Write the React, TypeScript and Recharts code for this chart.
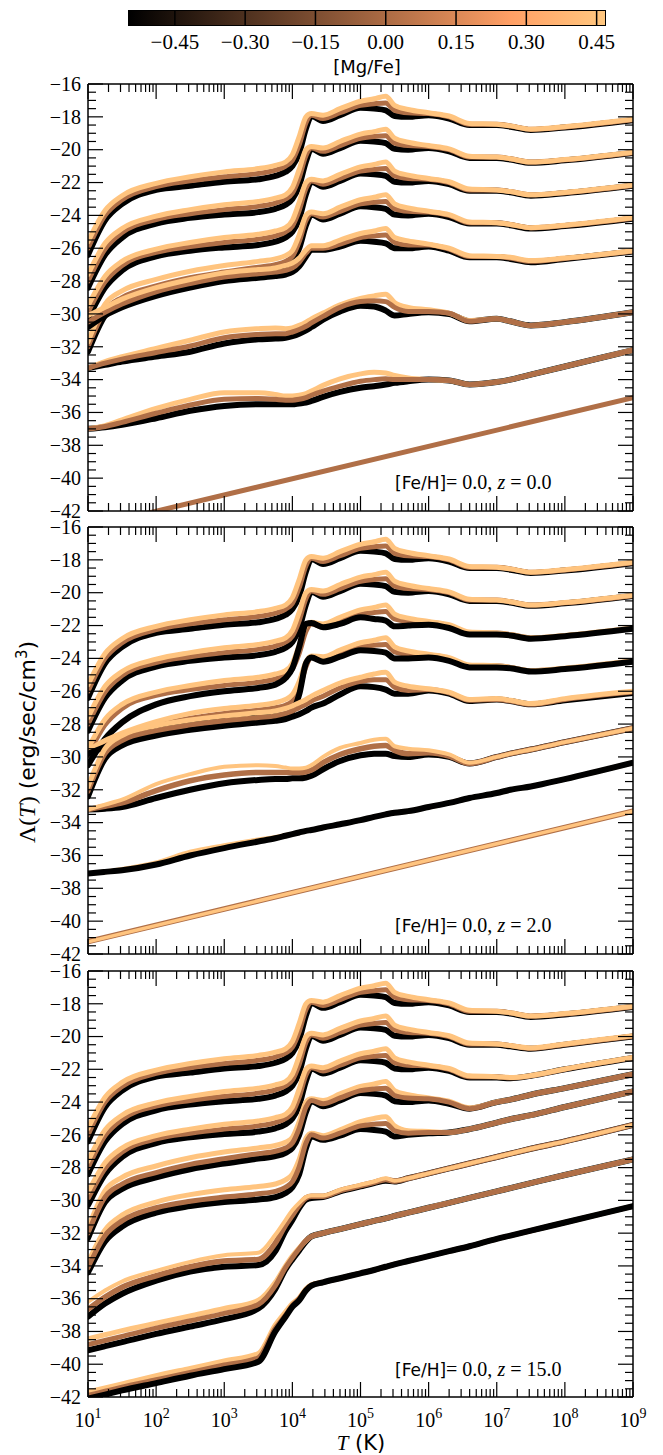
import React from 'react';
import { LineChart, Line, XAxis, YAxis } from 'recharts';

const BLACK = '#000000';
const BROWN = '#B06F47';
const ORANGE = '#FFC47F';
const SERIF = '"Liberation Serif", "DejaVu Serif", serif';
const SANS = '"DejaVu Sans", "Liberation Sans", sans-serif';

// colour bar ([Mg/Fe])
const MGFE_RANGE = [-0.55, 0.47];
const MGFE_TICKS = [-0.45, -0.3, -0.15, 0, 0.15, 0.3, 0.45];

// axes: log10(T) from 1 to 9, Lambda from -42 to -16
const DECADES = [1, 2, 3, 4, 5, 6, 7, 8, 9];
const MINOR_STEPS = [2, 3, 4, 5, 6, 7, 8, 9];
const Y_RANGE = [-42, -16];

// log10(T) sample grid shared by the curves
const LOGT = [1, 1.25, 1.5, 2, 2.5, 3, 3.5, 3.75, 3.9, 4, 4.1, 4.2, 4.28, 4.45, 4.7, 5, 5.2, 5.37, 5.5, 5.7, 6, 6.3, 6.6, 7, 7.2, 7.5, 8, 9];
const LOGT_ENDS = [1, 9];

// ---- z = 0.0 ----
const z0_g1_k = [-26.4, -24.3, -23.3, -22.45, -22.2, -21.95, -21.8, -21.6, -21.35, -21.0, -20.2, -18.7, -17.95, -18.25, -17.9, -17.45, -17.5, -17.6, -17.95, -18.0, -17.9, -18.1, -18.5, -18.5, -18.6, -18.8, -18.65, -18.2];
const z0_g1_b = [-26.0, -24.0, -23.05, -22.25, -21.9, -21.65, -21.45, -21.25, -21.0, -20.65, -19.7, -18.35, -17.9, -18.1, -17.75, -17.3, -17.2, -17.15, -17.6, -17.75, -17.8, -18.0, -18.45, -18.45, -18.55, -18.75, -18.62, -18.18];
const z0_g1_o = [-25.6, -23.7, -22.8, -22.05, -21.65, -21.35, -21.15, -20.95, -20.75, -20.3, -19.2, -18.0, -17.8, -17.9, -17.5, -17.05, -16.9, -16.75, -17.3, -17.55, -17.75, -17.95, -18.4, -18.45, -18.55, -18.75, -18.6, -18.15];
const z0_g2_k = [-28.4, -26.4, -25.35, -24.5, -24.15, -23.95, -23.8, -23.6, -23.35, -23.0, -22.2, -20.7, -19.95, -20.25, -19.9, -19.45, -19.5, -19.6, -19.95, -20.0, -19.9, -20.1, -20.5, -20.5, -20.6, -20.8, -20.65, -20.2];
const z0_g2_b = [-28.0, -26.05, -25.05, -24.25, -23.9, -23.65, -23.45, -23.25, -23.0, -22.65, -21.7, -20.35, -19.9, -20.1, -19.75, -19.3, -19.2, -19.15, -19.6, -19.75, -19.8, -20.0, -20.45, -20.45, -20.55, -20.75, -20.62, -20.18];
const z0_g2_o = [-27.6, -25.7, -24.8, -24.05, -23.65, -23.35, -23.15, -22.95, -22.75, -22.3, -21.2, -20.0, -19.8, -19.9, -19.5, -19.05, -18.9, -18.75, -19.3, -19.55, -19.75, -19.95, -20.4, -20.45, -20.55, -20.75, -20.6, -20.15];
const z0_g3_k = [-30.3, -28.4, -27.35, -26.5, -26.15, -25.95, -25.8, -25.6, -25.35, -25.0, -24.2, -22.7, -21.95, -22.25, -21.9, -21.45, -21.5, -21.6, -21.95, -22.0, -21.9, -22.1, -22.5, -22.5, -22.6, -22.8, -22.65, -22.2];
const z0_g3_b = [-29.9, -28.05, -27.05, -26.25, -25.9, -25.65, -25.45, -25.25, -25.0, -24.65, -23.7, -22.35, -21.9, -22.1, -21.75, -21.3, -21.2, -21.15, -21.6, -21.75, -21.8, -22.0, -22.45, -22.45, -22.55, -22.75, -22.62, -22.18];
const z0_g3_o = [-29.5, -27.7, -26.8, -26.05, -25.65, -25.35, -25.15, -24.95, -24.75, -24.3, -23.2, -22.0, -21.8, -21.9, -21.5, -21.05, -20.9, -20.75, -21.3, -21.55, -21.75, -21.95, -22.4, -22.45, -22.55, -22.75, -22.6, -22.15];
const z0_g4_k = [-32.3, -30.1, -29.3, -28.6, -28.1, -27.75, -27.45, -27.3, -27.1, -26.8, -26.0, -24.6, -23.95, -24.25, -23.9, -23.45, -23.5, -23.6, -23.95, -24.0, -23.9, -24.1, -24.5, -24.5, -24.6, -24.8, -24.65, -24.2];
const z0_g4_b = [-32.0, -29.8, -29.0, -28.3, -27.8, -27.45, -27.15, -27.0, -26.8, -26.5, -25.6, -24.3, -23.9, -24.1, -23.75, -23.3, -23.2, -23.15, -23.6, -23.75, -23.8, -24.0, -24.45, -24.45, -24.55, -24.75, -24.62, -24.18];
const z0_g4_o = [-31.7, -29.4, -28.6, -27.9, -27.4, -27.05, -26.8, -26.65, -26.45, -26.15, -25.2, -24.0, -23.8, -23.9, -23.5, -23.05, -22.9, -22.75, -23.3, -23.55, -23.75, -23.95, -24.4, -24.45, -24.55, -24.75, -24.6, -24.15];
const z0_g5_k = [-30.8, -30.1, -29.6, -28.9, -28.4, -28.0, -27.8, -27.7, -27.6, -27.45, -27.1, -26.5, -26.1, -26.1, -25.9, -25.55, -25.6, -25.7, -26.0, -26.0, -25.9, -26.15, -26.55, -26.55, -26.65, -26.85, -26.65, -26.2];
const z0_g5_b = [-30.5, -29.9, -29.4, -28.65, -28.15, -27.75, -27.55, -27.45, -27.35, -27.2, -26.85, -26.3, -26.0, -26.0, -25.75, -25.35, -25.25, -25.2, -25.65, -25.8, -25.8, -26.05, -26.5, -26.5, -26.6, -26.8, -26.62, -26.18];
const z0_g5_o = [-30.1, -29.6, -29.1, -28.4, -27.9, -27.5, -27.3, -27.2, -27.05, -26.9, -26.6, -26.1, -25.85, -25.85, -25.5, -25.1, -24.95, -24.8, -25.35, -25.55, -25.75, -26.0, -26.45, -26.5, -26.55, -26.75, -26.6, -26.15];
const z0_g6_k = [-33.3, -33.1, -32.9, -32.6, -32.3, -31.8, -31.55, -31.5, -31.45, -31.35, -31.2, -31.0, -30.8, -30.35, -29.85, -29.5, -29.55, -29.8, -30.1, -30.0, -29.9, -30.0, -30.45, -30.3, -30.45, -30.7, -30.5, -29.9];
const z0_g6_b = [-33.3, -33.0, -32.75, -32.35, -31.95, -31.45, -31.25, -31.2, -31.2, -31.1, -30.95, -30.75, -30.55, -30.15, -29.6, -29.25, -29.2, -29.25, -29.6, -29.85, -29.85, -29.95, -30.45, -30.3, -30.45, -30.7, -30.5, -29.9];
const z0_g6_o = [-33.3, -32.9, -32.6, -32.1, -31.6, -31.1, -30.9, -30.85, -30.9, -30.85, -30.7, -30.5, -30.3, -29.95, -29.45, -29.05, -28.9, -28.8, -29.3, -29.6, -29.75, -29.95, -30.4, -30.3, -30.45, -30.7, -30.5, -29.9];
const z0_g7_k = [-37.0, -36.9, -36.75, -36.35, -35.9, -35.6, -35.5, -35.5, -35.5, -35.5, -35.45, -35.4, -35.3, -35.05, -34.75, -34.5, -34.4, -34.3, -34.2, -34.1, -34.0, -34.05, -34.3, -34.15, -34.0, -33.7, -33.2, -32.2];
const z0_g7_b = [-37.0, -36.85, -36.6, -36.05, -35.55, -35.2, -35.15, -35.2, -35.25, -35.25, -35.2, -35.1, -34.95, -34.7, -34.4, -34.1, -34.0, -33.95, -34.0, -34.0, -34.0, -34.05, -34.3, -34.15, -34.0, -33.7, -33.2, -32.2];
const z0_g7_o = [-37.0, -36.8, -36.45, -35.75, -35.2, -34.8, -34.8, -34.9, -35.0, -35.0, -34.95, -34.85, -34.7, -34.35, -33.95, -33.65, -33.55, -33.6, -33.75, -33.9, -34.0, -34.05, -34.3, -34.15, -34.0, -33.7, -33.2, -32.2];
const z0_g8_b = [-43.0, -35.1];

// ---- z = 2.0 ----
const z2_g3_k = [-30.5, -28.9, -27.9, -26.8, -26.3, -26.0, -25.8, -25.6, -25.2, -24.6, -23.3, -21.9, -21.85, -22.1, -21.9, -21.5, -21.6, -21.7, -22.05, -22.0, -21.95, -22.15, -22.55, -22.55, -22.6, -22.8, -22.65, -22.2];
const z2_g4_k = [-29.8, -29.4, -29.0, -28.4, -28.0, -27.75, -27.6, -27.5, -27.4, -27.2, -26.2, -24.3, -23.95, -24.2, -23.9, -23.5, -23.55, -23.65, -24.0, -24.0, -23.95, -24.15, -24.55, -24.55, -24.6, -24.8, -24.65, -24.2];
const z2_g4_b = [-29.7, -29.2, -28.8, -28.1, -27.65, -27.35, -27.15, -27.0, -26.85, -26.6, -25.9, -24.5, -23.95, -24.1, -23.75, -23.3, -23.2, -23.15, -23.6, -23.75, -23.8, -24.0, -24.45, -24.45, -24.55, -24.75, -24.62, -24.18];
const z2_g4_o = [-29.6, -29.0, -28.55, -27.85, -27.35, -27.05, -26.85, -26.7, -26.5, -26.2, -25.4, -24.2, -23.85, -23.9, -23.5, -23.05, -22.9, -22.75, -23.3, -23.55, -23.75, -23.95, -24.4, -24.45, -24.55, -24.75, -24.6, -24.15];
const z2_g5_k = [-32.4, -30.1, -29.3, -28.7, -28.35, -28.1, -27.9, -27.8, -27.7, -27.55, -27.4, -27.2, -27.0, -26.75, -26.2, -25.7, -25.75, -25.9, -26.15, -26.15, -25.95, -26.15, -26.6, -26.5, -26.6, -26.8, -26.55, -26.1];
const z2_g5_b = [-32.1, -29.8, -29.0, -28.4, -28.05, -27.8, -27.6, -27.5, -27.35, -27.2, -27.0, -26.8, -26.6, -26.3, -25.8, -25.4, -25.3, -25.3, -25.75, -25.95, -25.9, -26.1, -26.55, -26.5, -26.6, -26.8, -26.5, -26.05];
const z2_g5_o = [-31.8, -29.5, -28.7, -28.1, -27.75, -27.5, -27.3, -27.2, -27.05, -26.9, -26.7, -26.5, -26.3, -25.95, -25.5, -25.15, -24.95, -24.85, -25.45, -25.7, -25.85, -26.05, -26.5, -26.45, -26.55, -26.75, -26.45, -26.0];
const z2_g6_k = [-33.2, -33.15, -33.05, -32.5, -32.0, -31.6, -31.4, -31.35, -31.35, -31.3, -31.3, -31.25, -31.15, -30.75, -30.25, -29.9, -29.8, -29.8, -29.95, -30.0, -29.85, -30.0, -30.4, -30.0, -29.8, -29.55, -29.1, -28.25];
const z2_g6_b = [-33.2, -33.0, -32.8, -32.05, -31.45, -31.1, -30.95, -30.95, -30.95, -30.95, -30.95, -30.9, -30.8, -30.35, -29.85, -29.5, -29.35, -29.3, -29.6, -29.8, -29.75, -29.95, -30.4, -30.0, -29.8, -29.55, -29.1, -28.25];
const z2_g6_o = [-33.2, -32.9, -32.6, -31.65, -31.05, -30.6, -30.5, -30.55, -30.65, -30.7, -30.7, -30.65, -30.5, -30.0, -29.45, -29.15, -28.95, -28.9, -29.35, -29.5, -29.6, -29.85, -30.35, -30.0, -29.8, -29.55, -29.1, -28.25];
const z2_g7_k = [-37.1, -37.0, -36.9, -36.55, -36.0, -35.55, -35.15, -34.95, -34.8, -34.7, -34.6, -34.5, -34.45, -34.3, -34.1, -33.85, -33.65, -33.5, -33.4, -33.3, -33.05, -32.8, -32.5, -32.2, -32.0, -31.8, -31.35, -30.35];
const z2_g7_o = [-37.1, -37.0, -36.85, -36.45, -35.8, -35.4, -35.05, -34.9, -34.78, -34.7, -34.6, -34.5, -34.45, -34.3, -34.1, -33.85, -33.65, -33.5, -33.4, -33.3, -33.05, -32.8, -32.5, -32.2, -32.0, -31.8, -31.35, -30.35];
const z2_g8_o = [-41.25, -33.3];

// ---- z = 15.0 ----
const z15_g2_k = [-28.4, -26.4, -25.35, -24.5, -24.15, -23.95, -23.8, -23.6, -23.35, -23.0, -22.2, -20.7, -19.95, -20.25, -19.9, -19.45, -19.5, -19.6, -19.95, -20.0, -19.9, -20.1, -20.5, -20.5, -20.6, -20.75, -20.5, -20.0];
const z15_g2_b = [-28.0, -26.05, -25.05, -24.25, -23.9, -23.65, -23.45, -23.25, -23.0, -22.65, -21.7, -20.35, -19.9, -20.1, -19.75, -19.3, -19.2, -19.15, -19.6, -19.75, -19.8, -20.0, -20.45, -20.45, -20.55, -20.72, -20.48, -19.98];
const z15_g2_o = [-27.6, -25.7, -24.8, -24.05, -23.65, -23.35, -23.15, -22.95, -22.75, -22.3, -21.2, -20.0, -19.8, -19.9, -19.5, -19.05, -18.9, -18.75, -19.3, -19.55, -19.75, -19.95, -20.4, -20.45, -20.55, -20.7, -20.45, -19.95];
const z15_g3_k = [-30.3, -28.4, -27.35, -26.5, -26.15, -25.95, -25.8, -25.6, -25.35, -25.0, -24.2, -22.7, -21.95, -22.25, -21.9, -21.45, -21.5, -21.6, -21.95, -22.0, -21.9, -22.1, -22.5, -22.5, -22.55, -22.4, -22.0, -21.3];
const z15_g3_b = [-29.9, -28.05, -27.05, -26.25, -25.9, -25.65, -25.45, -25.25, -25.0, -24.65, -23.7, -22.35, -21.9, -22.1, -21.75, -21.3, -21.2, -21.15, -21.6, -21.75, -21.8, -22.0, -22.45, -22.45, -22.52, -22.4, -22.0, -21.3];
const z15_g3_o = [-29.5, -27.7, -26.8, -26.05, -25.65, -25.35, -25.15, -24.95, -24.75, -24.3, -23.2, -22.0, -21.8, -21.9, -21.5, -21.05, -20.9, -20.75, -21.3, -21.55, -21.75, -21.95, -22.4, -22.45, -22.5, -22.38, -21.98, -21.28];
const z15_g4_k = [-32.3, -30.1, -29.3, -28.6, -28.1, -27.75, -27.45, -27.3, -27.1, -26.8, -26.0, -24.6, -23.95, -24.25, -23.9, -23.45, -23.5, -23.6, -23.95, -24.0, -23.9, -24.1, -24.4, -24.0, -23.85, -23.55, -23.15, -22.3];
const z15_g4_b = [-32.0, -29.8, -29.0, -28.3, -27.8, -27.45, -27.15, -27.0, -26.8, -26.5, -25.6, -24.3, -23.9, -24.1, -23.75, -23.3, -23.2, -23.15, -23.6, -23.75, -23.8, -24.0, -24.4, -24.0, -23.85, -23.55, -23.15, -22.3];
const z15_g4_o = [-31.7, -29.4, -28.6, -27.9, -27.4, -27.05, -26.8, -26.65, -26.45, -26.15, -25.2, -24.0, -23.8, -23.9, -23.5, -23.05, -22.9, -22.75, -23.3, -23.55, -23.75, -23.95, -24.35, -24.0, -23.85, -23.55, -23.15, -22.3];
const z15_g5_k = [-34.4, -32.5, -31.6, -30.75, -30.35, -30.1, -29.95, -29.8, -29.55, -29.2, -28.4, -26.8, -26.1, -26.3, -26.05, -25.65, -25.7, -25.8, -26.1, -26.0, -25.9, -25.85, -25.65, -25.25, -25.05, -24.8, -24.3, -23.35];
const z15_g5_b = [-34.1, -32.15, -31.25, -30.45, -30.05, -29.8, -29.6, -29.45, -29.2, -28.85, -27.95, -26.5, -26.0, -26.2, -25.9, -25.45, -25.35, -25.3, -25.75, -25.9, -25.85, -25.85, -25.65, -25.25, -25.05, -24.8, -24.3, -23.35];
const z15_g5_o = [-33.8, -31.8, -30.9, -30.1, -29.65, -29.35, -29.15, -29.0, -28.75, -28.4, -27.5, -26.2, -25.9, -26.05, -25.7, -25.2, -25.0, -24.9, -25.45, -25.75, -25.8, -25.85, -25.65, -25.25, -25.05, -24.8, -24.3, -23.35];
const z15_g6_k = [-37.1, -36.3, -35.7, -34.9, -34.35, -34.05, -33.95, -33.1, -31.85, -31.2, -30.45, -29.95, -29.85, -29.8, -29.45, -29.15, -28.95, -28.8, -28.85, -28.65, -28.35, -28.05, -27.75, -27.35, -27.15, -26.85, -26.4, -25.4];
const z15_g6_b = [-36.65, -35.9, -35.3, -34.6, -34.05, -33.7, -33.6, -32.6, -31.5, -30.9, -30.3, -29.85, -29.75, -29.75, -29.4, -29.1, -28.9, -28.72, -28.82, -28.65, -28.35, -28.05, -27.75, -27.35, -27.15, -26.85, -26.4, -25.4];
const z15_g6_o = [-36.2, -35.5, -34.95, -34.3, -33.75, -33.35, -33.2, -32.1, -31.2, -30.6, -30.15, -29.8, -29.7, -29.7, -29.35, -29.05, -28.85, -28.65, -28.8, -28.65, -28.35, -28.05, -27.75, -27.35, -27.15, -26.85, -26.4, -25.4];
const z15_g7_k = [-39.15, -38.9, -38.65, -38.15, -37.7, -37.25, -36.6, -35.4, -34.2, -33.6, -33.05, -32.5, -32.2, -32.0, -31.75, -31.45, -31.25, -31.1, -30.95, -30.75, -30.45, -30.15, -29.85, -29.45, -29.25, -28.95, -28.45, -27.5];
const z15_g7_b = [-38.8, -38.55, -38.3, -37.8, -37.35, -36.9, -36.35, -35.2, -34.1, -33.5, -32.95, -32.45, -32.2, -32.0, -31.75, -31.45, -31.25, -31.1, -30.95, -30.75, -30.45, -30.15, -29.85, -29.45, -29.25, -28.95, -28.45, -27.5];
const z15_g7_o = [-38.45, -38.2, -37.95, -37.5, -37.05, -36.6, -36.1, -35.0, -34.0, -33.4, -32.9, -32.45, -32.2, -32.0, -31.75, -31.45, -31.25, -31.1, -30.95, -30.75, -30.45, -30.15, -29.85, -29.45, -29.25, -28.95, -28.45, -27.5];
const z15_g8_k = [-42.1, -41.85, -41.6, -41.15, -40.7, -40.3, -39.85, -38.0, -37.1, -36.5, -36.1, -35.5, -35.2, -35.0, -34.75, -34.45, -34.25, -34.05, -33.9, -33.7, -33.4, -33.1, -32.8, -32.35, -32.15, -31.85, -31.35, -30.35];
const z15_g8_b = [-41.9, -41.65, -41.4, -40.95, -40.5, -40.05, -39.6, -37.8, -37.0, -36.4, -36.0, -35.45, -35.18, -35.0, -34.75, -34.45, -34.25, -34.05, -33.9, -33.7, -33.4, -33.1, -32.8, -32.35, -32.15, -31.85, -31.35, -30.35];
const z15_g8_o = [-41.7, -41.45, -41.2, -40.7, -40.25, -39.8, -39.35, -37.6, -36.8, -36.3, -35.95, -35.4, -35.15, -35.0, -34.75, -34.45, -34.25, -34.05, -33.9, -33.7, -33.4, -33.1, -32.8, -32.35, -32.15, -31.85, -31.35, -30.35];

type Curve = { ys: number[]; color: string; w: number; xs: number[] };
const cv = (ys: number[], color: string, w = 5, xs: number[] = LOGT): Curve => ({ ys, color, w, xs });
const K = (ys: number[]) => cv(ys, BLACK, 6);
const B = (ys: number[]) => cv(ys, BROWN, 5);
const O = (ys: number[]) => cv(ys, ORANGE, 5);

const PANELS = [
  {
    z: '0.0', top: 84, plotH: 427, bottom: 12, showX: false,
    curves: [
      K(z0_g1_k), B(z0_g1_b), O(z0_g1_o),
      K(z0_g2_k), B(z0_g2_b), O(z0_g2_o),
      K(z0_g3_k), B(z0_g3_b), O(z0_g3_o),
      K(z0_g4_k), B(z0_g4_b), O(z0_g4_o),
      K(z0_g5_k), B(z0_g5_b), O(z0_g5_o),
      K(z0_g6_k), O(z0_g6_o), B(z0_g6_b),
      K(z0_g7_k), O(z0_g7_o), B(z0_g7_b),
      cv(z0_g8_b, BROWN, 5, LOGT_ENDS),
    ],
  },
  {
    z: '2.0', top: 527, plotH: 427, bottom: 12, showX: false,
    curves: [
      K(z0_g1_k), B(z0_g1_b), O(z0_g1_o),
      K(z0_g2_k), B(z0_g2_b), O(z0_g2_o),
      B(z0_g3_b), O(z0_g3_o), K(z2_g3_k),
      B(z2_g4_b), O(z2_g4_o), K(z2_g4_k),
      K(z2_g5_k), B(z2_g5_b), O(z2_g5_o),
      K(z2_g6_k), cv(z2_g6_b, BROWN, 5.5), cv(z2_g6_o, ORANGE, 4),
      O(z2_g7_o), K(z2_g7_k),
      cv(z2_g8_o, BROWN, 5.5, LOGT_ENDS), cv(z2_g8_o, ORANGE, 3.5, LOGT_ENDS),
    ],
  },
  {
    z: '15.0', top: 971, plotH: 426, bottom: 50, showX: true,
    curves: [
      K(z0_g1_k), B(z0_g1_b), O(z0_g1_o),
      K(z15_g2_k), B(z15_g2_b), O(z15_g2_o),
      K(z15_g3_k), B(z15_g3_b), O(z15_g3_o),
      K(z15_g4_k), O(z15_g4_o), B(z15_g4_b),
      K(z15_g5_k), O(z15_g5_o), B(z15_g5_b),
      K(z15_g6_k), cv(z15_g6_b, BROWN, 5.5), cv(z15_g6_o, ORANGE, 4),
      K(z15_g7_k), O(z15_g7_o), B(z15_g7_b),
      O(z15_g8_o), B(z15_g8_b), K(z15_g8_k),
    ],
  },
];

const X_TICKS = DECADES.flatMap((d) => (d < 9 ? [d, ...MINOR_STEPS.map((m) => d + Math.log10(m))] : [d]));
const Y_TICKS = Array.from({ length: (Y_RANGE[1] - Y_RANGE[0]) * 2 + 1 }, (_, i) => Y_RANGE[0] + i * 0.5);

const minus = (v: number, digits: number) => (v < 0 ? '\u2212' : '') + Math.abs(v).toFixed(digits);
const isDecade = (v: number) => Math.abs(v - Math.round(v)) < 1e-6;
const isEven = (v: number) => Math.abs(v / 2 - Math.round(v / 2)) < 1e-6;

const TICK = { stroke: '#000', strokeWidth: 1.2 };

const bottomTick = (showLabel: boolean) => (props: any) => {
  const { x, y, payload } = props;
  const major = isDecade(payload.value);
  return (
    <g>
      <line x1={x} y1={y} x2={x} y2={y - (major ? 15 : 8)} {...TICK} />
      {showLabel && major && (
        <text x={x} y={y + 30} textAnchor="middle" fontFamily={SERIF} fontSize={20} fill="#000">
          10<tspan dy={-9} fontSize={14}>{Math.round(payload.value)}</tspan>
        </text>
      )}
    </g>
  );
};

const topTick = (props: any) => {
  const { x, y, payload } = props;
  const major = isDecade(payload.value);
  return <line x1={x} y1={y} x2={x} y2={y + (major ? 15 : 8)} {...TICK} />;
};

const leftTick = (props: any) => {
  const { x, y, payload } = props;
  const major = isEven(payload.value);
  return (
    <g>
      <line x1={x} y1={y} x2={x + (major ? 15 : 8)} y2={y} {...TICK} />
      {major && (
        <text x={x - 7} y={y} dy="0.34em" textAnchor="end" fontFamily={SERIF} fontSize={20} fill="#000">
          {minus(payload.value, 0)}
        </text>
      )}
    </g>
  );
};

const rightTick = (props: any) => {
  const { x, y, payload } = props;
  const major = isEven(payload.value);
  return <line x1={x} y1={y} x2={x - (major ? 15 : 8)} y2={y} {...TICK} />;
};

const FRAME = { stroke: '#000', strokeWidth: 1.5 };

function Panel({ p }: { p: (typeof PANELS)[number] }) {
  const h = 10 + p.plotH + p.bottom;
  return (
    <div style={{ position: 'absolute', left: 0, top: p.top - 10 }}>
      <LineChart width={663} height={h} margin={{ top: 8, right: 0, bottom: 0, left: 0 }}>
        <XAxis xAxisId="b" dataKey="x" type="number" domain={[1, 9]} ticks={X_TICKS} interval={0}
          tickSize={0} tickMargin={0} tickLine={false} axisLine={FRAME} height={p.bottom}
          tick={bottomTick(p.showX)} allowDataOverflow />
        <XAxis xAxisId="t" orientation="top" dataKey="x" type="number" domain={[1, 9]} ticks={X_TICKS}
          interval={0} tickSize={0} tickMargin={0} tickLine={false} axisLine={FRAME} height={2}
          tick={topTick} allowDataOverflow />
        <YAxis yAxisId="l" type="number" domain={Y_RANGE} ticks={Y_TICKS} interval={0} width={88}
          tickSize={0} tickMargin={0} tickLine={false} axisLine={FRAME} tick={leftTick} allowDataOverflow />
        <YAxis yAxisId="r" orientation="right" type="number" domain={Y_RANGE} ticks={Y_TICKS} interval={0}
          width={30} tickSize={0} tickMargin={0} tickLine={false} axisLine={FRAME} tick={rightTick}
          allowDataOverflow />
        {p.curves.map((c, i) => (
          <Line key={i} xAxisId="b" yAxisId="l" data={c.xs.map((x, j) => ({ x, y: c.ys[j] }))}
            dataKey="y" type="monotone" stroke={c.color} strokeWidth={c.w} dot={false}
            activeDot={false} strokeLinecap="round" strokeLinejoin="round" isAnimationActive={false} />
        ))}
      </LineChart>
    </div>
  );
}

const cbarTick = (props: any) => {
  const { x, y, payload } = props;
  return (
    <g>
      <line x1={x} y1={y} x2={x} y2={y - 16} stroke="#000" strokeWidth={1.5} />
      <text x={x} y={y + 23} textAnchor="middle" fontFamily={SERIF} fontSize={21} fill="#000">
        {minus(payload.value, 2)}
      </text>
    </g>
  );
};

const CBAR_LEFT = 128;
const CBAR_RIGHT = 57;

function ColorBar() {
  return (
    <>
      <div
        style={{
          position: 'absolute', left: CBAR_LEFT, top: 10, width: 663 - CBAR_LEFT - CBAR_RIGHT, height: 16,
          boxSizing: 'border-box', border: '1.5px solid #000',
          background: 'linear-gradient(to right, #000000 0%, #FF9F65 80%, #FFC77F 100%)',
        }}
      />
      <div style={{ position: 'absolute', left: 0, top: 0 }}>
        <LineChart width={663} height={66} margin={{ top: 10, right: CBAR_RIGHT, bottom: 0, left: CBAR_LEFT }}
          data={MGFE_TICKS.map((v) => ({ x: v, y: 0.5 }))}>
          <XAxis dataKey="x" type="number" domain={MGFE_RANGE} ticks={MGFE_TICKS} interval={0}
            tickSize={0} tickMargin={0} tickLine={false} axisLine={false} height={40} tick={cbarTick} />
          <YAxis hide type="number" domain={[0, 1]} />
          <Line dataKey="y" stroke="none" dot={false} activeDot={false} isAnimationActive={false} />
        </LineChart>
      </div>
    </>
  );
}

export default function App() {
  return (
    <div style={{ position: 'absolute', left: 0, top: 0, width: 663, height: 1455, background: '#fff' }}>
      <ColorBar />
      {PANELS.map((p) => (
        <Panel key={p.z} p={p} />
      ))}
      <svg width={663} height={1455} style={{ position: 'absolute', left: 0, top: 0, pointerEvents: 'none' }}>
        <text x={367} y={73} textAnchor="middle" fontFamily={SANS} fontSize={18} fill="#000">[Mg/Fe]</text>
        {PANELS.map((p) => (
          <text key={p.z} x={395} y={p.top + 405} fill="#000" fontSize={20} fontFamily={SERIF}>
            <tspan fontFamily={SANS} fontSize={17}>[Fe/H]</tspan>
            <tspan>= 0.0, </tspan>
            <tspan fontStyle="italic">z</tspan>
            <tspan> = {p.z}</tspan>
          </text>
        ))}
        <text transform="translate(35, 742) rotate(-90)" textAnchor="middle" fill="#000" fontSize={24} fontFamily={SERIF}>
          <tspan>Λ(</tspan>
          <tspan fontStyle="italic">T</tspan>
          <tspan>)</tspan>
          <tspan fontFamily={SANS} fontSize={22}> (erg/sec/cm</tspan>
          <tspan fontFamily={SANS} fontSize={15} dy={-8}>3</tspan>
          <tspan fontFamily={SANS} fontSize={22} dy={8}>)</tspan>
        </text>
        <text x={361} y={1450} textAnchor="middle" fill="#000" fontSize={21}>
          <tspan fontFamily={SERIF} fontStyle="italic">T</tspan>
          <tspan fontFamily={SANS}> (K)</tspan>
        </text>
      </svg>
    </div>
  );
}
